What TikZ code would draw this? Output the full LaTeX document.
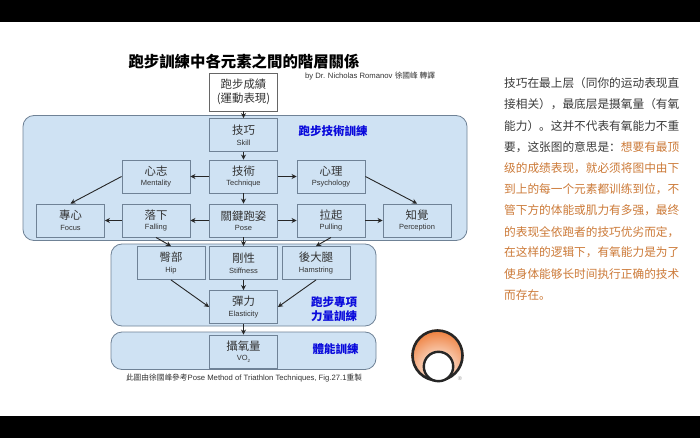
\documentclass[tikz,border=0pt]{standalone}
\usepackage{fontspec}
\setmainfont{Liberation Sans}
\newfontfamily\tcfont{Noto Sans CJK TC}
\newfontfamily\scfont{Noto Sans CJK SC}
\usetikzlibrary{arrows.meta}
\definecolor{panelblue}{HTML}{CFE2F3}
\definecolor{edgeblue}{HTML}{6F8296}
\definecolor{inkgray}{HTML}{333333}
\definecolor{labelblue}{HTML}{0A0ADC}
\definecolor{note}{HTML}{CC7A38}
\definecolor{bodytext}{HTML}{3A3A3A}
\definecolor{logoorange}{HTML}{EE7A35}
\tikzset{
  panel/.style={draw=edgeblue,line width=0.8pt,fill=panelblue,rounded corners=11pt},
  bx/.style={draw=edgeblue,line width=0.9pt,fill=panelblue,minimum width=68pt,minimum height=33pt,inner sep=0pt,align=center,text=inkgray},
  conn/.style={draw=black!85,line width=0.9pt,-{Stealth[length=5pt,width=5pt]}},
  tag/.style={text=labelblue,font=\tcfont\bfseries\fontsize{11.5}{14}\selectfont,align=center,inner sep=0pt},
  para/.style={anchor=west,inner sep=0pt,text=bodytext,font=\scfont\fontsize{11.67}{13}\selectfont},
  orangepara/.style={para,text=note}
}
\newcommand{\zh}[2]{{\tcfont\fontsize{11.4}{13.5}\selectfont #1}\\[-1.5pt]{\fontsize{7.5}{9}\selectfont #2}}
\begin{document}
\begin{tikzpicture}[x=1pt,y=-1pt]
\useasboundingbox (0,0) rectangle (700,438);
\fill[white] (0,0) rectangle (700,438);
\fill[black] (0,0) rectangle (700,22);
\fill[black] (0,416) rectangle (700,438);

\node[inner sep=0pt,font=\tcfont\bfseries\fontsize{15.4}{18}\selectfont,text=black] (title) at (244,62) {跑步訓練中各元素之間的階層關係};
\node[inner sep=0pt,text=inkgray,font=\fontsize{7.7}{8}\selectfont] (byline) at (370,76) {by Dr. Nicholas Romanov {\tcfont 徐國峰 轉譯}};

\path[panel] (23,115.5) rectangle (467,240.5);
\path[panel] (111,244) rectangle (376,326);
\path[panel] (111,332) rectangle (376,369.5);

\node[bx,fill=white,minimum height=38pt,draw=black!60,font=\tcfont\fontsize{11.4}{14.5}\selectfont] (perf) at (243.5,92) {跑步成績\\(運動表現)};
\node[bx] (skill) at (243.5,135) {\zh{技巧}{Skill}};
\node[bx] (tech) at (243.5,176.5) {\zh{技術}{Technique}};
\node[bx] (ment) at (156,176.5) {\zh{心志}{Mentality}};
\node[bx] (psy) at (331,176.5) {\zh{心理}{Psychology}};
\node[bx] (focus) at (70.5,220.5) {\zh{專心}{Focus}};
\node[bx] (fall) at (156,220.5) {\zh{落下}{Falling}};
\node[bx] (pose) at (243.5,220.5) {\zh{關鍵跑姿}{Pose}};
\node[bx] (pull) at (331,220.5) {\zh{拉起}{Pulling}};
\node[bx] (perc) at (417,220.5) {\zh{知覺}{Perception}};
\node[bx] (hip) at (171,263) {\zh{臀部}{Hip}};
\node[bx] (stiff) at (243.5,263) {\zh{剛性}{Stiffness}};
\node[bx] (ham) at (316,263) {\zh{後大腿}{Hamstring}};
\node[bx] (elas) at (243.5,307) {\zh{彈力}{Elasticity}};
\node[bx] (vo) at (243.5,351.5) {\zh{攝氧量}{VO\raisebox{-1.5pt}{\fontsize{4.5}{5}\selectfont 2}}};

\draw[conn] (perf) -- (skill);
\draw[conn] (skill) -- (tech);
\draw[conn] (tech) -- (ment);
\draw[conn] (tech) -- (psy);
\draw[conn] (tech) -- (pose);
\draw[conn] (ment.west) -- (focus.north);
\draw[conn] (psy.east) -- (perc.north);
\draw[conn] (pose) -- (fall);
\draw[conn] (fall) -- (focus);
\draw[conn] (pose) -- (pull);
\draw[conn] (pull) -- (perc);
\draw[conn] (fall.south) -- (hip.north);
\draw[conn] (pose) -- (stiff);
\draw[conn] (pull.south) -- (ham.north);
\draw[conn] (hip.south) -- (elas.west);
\draw[conn] (stiff) -- (elas);
\draw[conn] (ham.south) -- (elas.east);
\draw[conn] (elas) -- (vo);

\node[tag] (t1) at (333,131) {跑步技術訓練};
\node[tag] (t2) at (334,309) {跑步專項\\力量訓練};
\node[tag] (t3) at (335.5,349) {體能訓練};
\node[inner sep=0pt,text=inkgray,font=\fontsize{7.7}{8}\selectfont] (cap) at (244,378) {{\tcfont 此圖由徐國峰參考}Pose Method of Triathlon Techniques, Fig.27.1{\tcfont 重製}};

% logo
\begin{scope}
\clip (437.5,355.5) circle (26);
\shade[inner color=white,outer color=logoorange] (438,368) circle (39);
\end{scope}
\draw[black!85,line width=2.6pt] (437.5,355.5) circle (25);
\draw[black!85,line width=2.4pt,fill=white] (438.5,366.5) circle (14.7);
\node[inner sep=0pt,text=black!40,font=\fontsize{5.5}{6}\selectfont] (reg) at (460,379) {®};

% right text
\node[para] (l1) at (504,83) {技巧在最上层（同你的运动表现直};
\node[para] (l2) at (504,104.5) {接相关），最底层是摄氧量（有氧};
\node[para] (l3) at (504,126) {能力）。这并不代表有氧能力不重};
\node[para] (l4) at (504,147) {要，这张图的意思是：{\color{note}想要有最顶}};
\node[orangepara] (l5) at (504,168) {级的成绩表现，就必须将图中由下};
\node[orangepara] (l6) at (504,189) {到上的每一个元素都训练到位，不};
\node[orangepara] (l7) at (504,210.5) {管下方的体能或肌力有多强，最终};
\node[orangepara] (l8) at (504,232) {的表现全依跑者的技巧优劣而定，};
\node[orangepara] (l9) at (504,252.5) {在这样的逻辑下，有氧能力是为了};
\node[orangepara] (l10) at (504,274) {使身体能够长时间执行正确的技术};
\node[orangepara] (l11) at (504,295) {而存在。};
\end{tikzpicture}
\end{document}
